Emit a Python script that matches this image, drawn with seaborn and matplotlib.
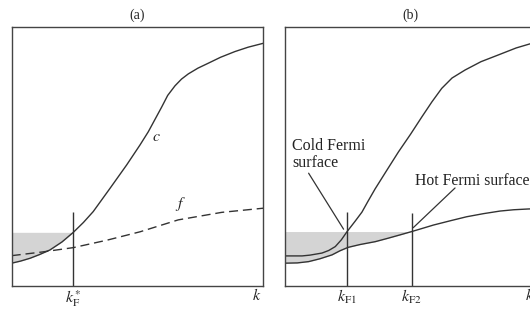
import matplotlib.pyplot as plt
import seaborn as sns

# ---- panel (a): conduction band c and flat band f ----
k_c_a = [0, 0.035, 0.073, 0.11, 0.152, 0.20, 0.245, 0.285, 0.324, 0.391, 0.457, 0.510, 0.543,
         0.596, 0.62, 0.649, 0.675, 0.702, 0.74, 0.781, 0.83, 0.887, 0.94, 1.0]
c_a = [0.088, 0.096, 0.107, 0.121, 0.139, 0.170, 0.207, 0.245, 0.287, 0.377, 0.467, 0.544, 0.595,
       0.690, 0.735, 0.772, 0.798, 0.818, 0.840, 0.859, 0.882, 0.904, 0.921, 0.936]
k_f_a = [0, 0.12, 0.245, 0.38, 0.510, 0.662, 0.835, 1.0]
f_a = [0.117, 0.131, 0.148, 0.177, 0.209, 0.255, 0.284, 0.300]
kF_a = [0.245]
kF_top_a = [0.287]
ticks_a = [0.245, 0.974]
tick_labels_a = [r'$k_{\mathrm{F}}^{*}$', r'$k$']

# ---- panel (b): upper (cold) and lower (hot) bands ----
k_up_b = [0, 0.069, 0.10, 0.148, 0.175, 0.201, 0.225, 0.248, 0.28, 0.307, 0.33, 0.359, 0.405,
          0.452, 0.50, 0.545, 0.585, 0.624, 0.665, 0.717, 0.78, 0.849, 0.92, 1.0]
up_b = [0.116, 0.116, 0.119, 0.127, 0.137, 0.152, 0.178, 0.210, 0.250, 0.285, 0.325, 0.374, 0.445,
        0.517, 0.585, 0.652, 0.710, 0.762, 0.802, 0.833, 0.865, 0.891, 0.918, 0.941]
k_lo_b = [0, 0.05, 0.095, 0.14, 0.188, 0.22, 0.252, 0.30, 0.360, 0.41, 0.458, 0.505, 0.55, 0.591,
          0.66, 0.723, 0.79, 0.856, 0.91, 0.968, 1.0]
lo_b = [0.088, 0.089, 0.094, 0.105, 0.120, 0.136, 0.149, 0.160, 0.171, 0.184, 0.197, 0.210, 0.223,
        0.235, 0.252, 0.267, 0.279, 0.289, 0.294, 0.297, 0.298]
kF_b = [0.248, 0.505]
kF_top_b = [0.287, 0.280]
ticks_b = [0.248, 0.505, 0.974]
tick_labels_b = [r'$k_{\mathrm{F1}}$', r'$k_{\mathrm{F2}}$', r'$k$']

sns.set_style("white")
plt.rcParams['font.family'] = ['Liberation Serif', 'DejaVu Serif']
plt.rcParams['mathtext.fontset'] = 'stix'

LINE = '#333333'
SHADE = '#d4d4d4'

fig = plt.figure(figsize=(5.30, 3.11), dpi=100)
ax_a = fig.add_axes([0.0221, 0.0804, 0.4747, 0.8338])
ax_b = fig.add_axes([0.5372, 0.0804, 0.4747, 0.8338])

for ax in (ax_a, ax_b):
    ax.set_xlim(0, 1)
    ax.set_ylim(0, 1)
    for s in ax.spines.values():
        s.set_color('#444444')
        s.set_linewidth(1.0)
    ax.set_yticks([])
    ax.tick_params(axis='x', length=0, pad=1.5, labelsize=11.5)

# (a)
i_a = k_c_a.index(kF_a[0])
ax_a.fill_between(k_c_a[:i_a + 1], c_a[:i_a + 1], c_a[i_a], color=SHADE, lw=0)
sns.lineplot(x=k_c_a, y=c_a, ax=ax_a, color=LINE, lw=1.0, sort=False, estimator=None)
sns.lineplot(x=k_f_a, y=f_a, ax=ax_a, color=LINE, lw=1.0, sort=False, estimator=None,
             dashes=False, linestyle=(0, (6.5, 3.5)))
ax_a.vlines(kF_a, 0, kF_top_a, color=LINE, lw=1.0)
ax_a.text(0.576, 0.576, r'$c$', fontsize=11.5, ha='center', va='center')
ax_a.text(0.672, 0.318, r'$f$', fontsize=11.5, ha='center', va='center')
ax_a.set_xticks(ticks_a, tick_labels_a)
ax_a.set_title('(a)', fontsize=10, pad=5.5)

# (b)
i_b = k_lo_b.index(kF_b[1])
ax_b.fill_between(k_lo_b[:i_b + 1], lo_b[:i_b + 1], lo_b[i_b], color=SHADE, lw=0)
sns.lineplot(x=k_up_b, y=up_b, ax=ax_b, color=LINE, lw=1.0, sort=False, estimator=None)
sns.lineplot(x=k_lo_b, y=lo_b, ax=ax_b, color=LINE, lw=1.0, sort=False, estimator=None)
ax_b.vlines(kF_b, 0, kF_top_b, color=LINE, lw=1.0)
ax_b.annotate('', xy=(0.234, 0.219), xytext=(0.095, 0.435),
              arrowprops=dict(arrowstyle='-', color=LINE, lw=0.9, shrinkA=0, shrinkB=0))
ax_b.text(0.029, 0.572, 'Cold Fermi\nsurface', fontsize=11.5, ha='left', va='top',
          linespacing=1.1, color='#222222')
ax_b.annotate('', xy=(0.511, 0.225), xytext=(0.677, 0.378),
              arrowprops=dict(arrowstyle='-', color=LINE, lw=0.9, shrinkA=0, shrinkB=0))
ax_b.text(0.518, 0.405, 'Hot Fermi surface', fontsize=11.3, ha='left', va='center',
          color='#222222')
ax_b.set_xticks(ticks_b, tick_labels_b)
ax_b.set_title('(b)', fontsize=10, pad=5.5)

fig.savefig('out.png', dpi=100)
